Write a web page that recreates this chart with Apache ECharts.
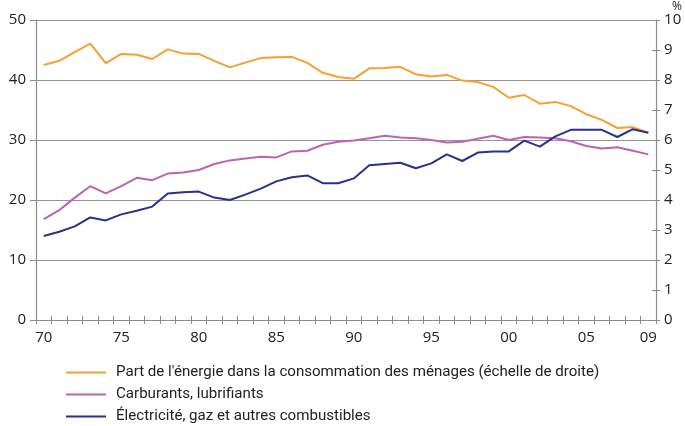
<!DOCTYPE html>
<html>
<head>
<meta charset="utf-8">
<script src="https://cdn.jsdelivr.net/npm/echarts@6/dist/echarts.min.js"></script>
<style>
  html, body { margin: 0; padding: 0; background: #fff; }
  #chart { width: 685px; height: 426px; }
</style>
</head>
<body>
<div id="chart"></div>
<script>
// Years 1970–2009
const years = [];
for (let y = 1970; y <= 2009; y++) years.push(y);

// Energy share of household consumption, % (right axis)
const partEnergie = [
  8.50, 8.64, 8.93, 9.21, 8.56, 8.87, 8.84, 8.70, 9.02, 8.88,
  8.87, 8.64, 8.42, 8.58, 8.73, 8.76, 8.77, 8.57, 8.24, 8.10,
  8.04, 8.39, 8.40, 8.44, 8.19, 8.12, 8.17, 7.98, 7.93, 7.77,
  7.41, 7.50, 7.21, 7.27, 7.13, 6.86, 6.67, 6.40, 6.43, 6.24
];

// Fuels and lubricants (left axis)
const carburants = [
  16.8, 18.3, 20.4, 22.3, 21.1, 22.3, 23.7, 23.3, 24.4, 24.6,
  25.0, 26.0, 26.6, 26.9, 27.2, 27.1, 28.1, 28.2, 29.2, 29.7,
  29.9, 30.3, 30.7, 30.4, 30.3, 30.0, 29.6, 29.7, 30.2, 30.7,
  30.0, 30.5, 30.4, 30.3, 29.8, 29.0, 28.6, 28.8, 28.2, 27.6
];

// Electricity, gas and other fuels (left axis)
const electricite = [
  14.0, 14.7, 15.6, 17.1, 16.6, 17.6, 18.2, 18.9, 21.1, 21.3,
  21.4, 20.4, 20.0, 20.9, 21.9, 23.1, 23.8, 24.1, 22.8, 22.8,
  23.6, 25.8, 26.0, 26.2, 25.3, 26.1, 27.6, 26.5, 27.9, 28.1,
  28.1, 29.9, 28.9, 30.6, 31.7, 31.7, 31.7, 30.5, 31.8, 31.2
];

const leftTicks = { min: 0, max: 50, interval: 10 };
const rightTicks = { min: 0, max: 10, interval: 1 };

const seriesNames = [
  "Part de l'énergie dans la consommation des ménages (échelle de droite)",
  'Carburants, lubrifiants',
  'Électricité, gaz et autres combustibles'
];
const colors = ['#F7A030', '#BD63B3', '#2D2F8E'];

const font = "'Open Sans', 'Noto Sans', sans-serif";
const legendFont = "Roboto, 'Open Sans', sans-serif";
const axisGray = '#8a8a8a';

const yearLabel = (v) => String(v).slice(2);
const showYear = (idx, v) => (Number(v) % 5 === 0 || Number(v) === 2009);

const chart = echarts.init(document.getElementById('chart'), null, { renderer: 'canvas' });

chart.setOption({
  animation: false,
  textStyle: { fontFamily: font },
  grid: { left: 36, right: 28.5, top: 20, bottom: 106, containLabel: false },
  legend: {
    orient: 'vertical',
    left: 66,
    top: 364,
    height: 80,
    padding: 0,
    itemWidth: 40,
    itemHeight: 2,
    itemGap: 5,
    icon: 'rect',
    textStyle: { fontFamily: legendFont, fontSize: 15.1, lineHeight: 17, color: '#222', padding: [0, 0, 0, 5] },
    data: seriesNames
  },
  xAxis: [
    {
      type: 'category',
      data: years,
      boundaryGap: true,
      axisLine: { lineStyle: { color: axisGray, width: 1.2 } },
      axisTick: { show: true, interval: 0, length: 4, lineStyle: { color: axisGray } },
      axisLabel: {
        interval: showYear,
        formatter: yearLabel,
        fontSize: 15,
        color: '#222',
        margin: 10,
        fontFamily: font
      },
      splitLine: { show: false }
    },
    {
      // inner half of the crossing tick marks
      type: 'category',
      data: years,
      position: 'bottom',
      boundaryGap: true,
      axisLine: { show: false },
      axisTick: { show: true, inside: true, interval: 0, length: 4, lineStyle: { color: axisGray } },
      axisLabel: { show: false },
      splitLine: { show: false }
    }
  ],
  yAxis: [
    {
      type: 'value',
      position: 'left',
      min: leftTicks.min, max: leftTicks.max, interval: leftTicks.interval,
      axisLine: { show: true, lineStyle: { color: axisGray, width: 1.2 } },
      axisTick: { show: true, length: 6, lineStyle: { color: axisGray } },
      axisLabel: { fontSize: 15, color: '#222', margin: 10, fontFamily: font },
      splitLine: { show: true, lineStyle: { color: '#959595', width: 1.2 } }
    },
    {
      type: 'value',
      position: 'right',
      name: '%',
      nameGap: 1,
      nameTextStyle: { fontSize: 12, color: '#222', align: 'left', padding: [0, 0, 0, 16] },
      min: rightTicks.min, max: rightTicks.max, interval: rightTicks.interval,
      axisLine: { show: true, lineStyle: { color: axisGray, width: 1.2 } },
      axisTick: { show: true, length: 4, lineStyle: { color: axisGray } },
      axisLabel: { fontSize: 15, color: '#222', margin: 8, fontFamily: font },
      splitLine: { show: false }
    },
    {
      // inner half of the right-hand crossing ticks
      type: 'value',
      position: 'right',
      min: rightTicks.min, max: rightTicks.max, interval: rightTicks.interval,
      axisLine: { show: false },
      axisTick: { show: true, inside: true, length: 4, lineStyle: { color: axisGray } },
      axisLabel: { show: false },
      splitLine: { show: false }
    }
  ],
  series: [
    {
      name: seriesNames[0], type: 'line', yAxisIndex: 1, data: partEnergie,
      symbol: 'none', lineStyle: { width: 2, color: colors[0] }, itemStyle: { color: colors[0] }, z: 3
    },
    {
      name: seriesNames[1], type: 'line', yAxisIndex: 0, data: carburants,
      symbol: 'none', lineStyle: { width: 2, color: colors[1] }, itemStyle: { color: colors[1] }, z: 2
    },
    {
      name: seriesNames[2], type: 'line', yAxisIndex: 0, data: electricite,
      symbol: 'none', lineStyle: { width: 2, color: colors[2] }, itemStyle: { color: colors[2] }, z: 4
    }
  ]
});
</script>
</body>
</html>
